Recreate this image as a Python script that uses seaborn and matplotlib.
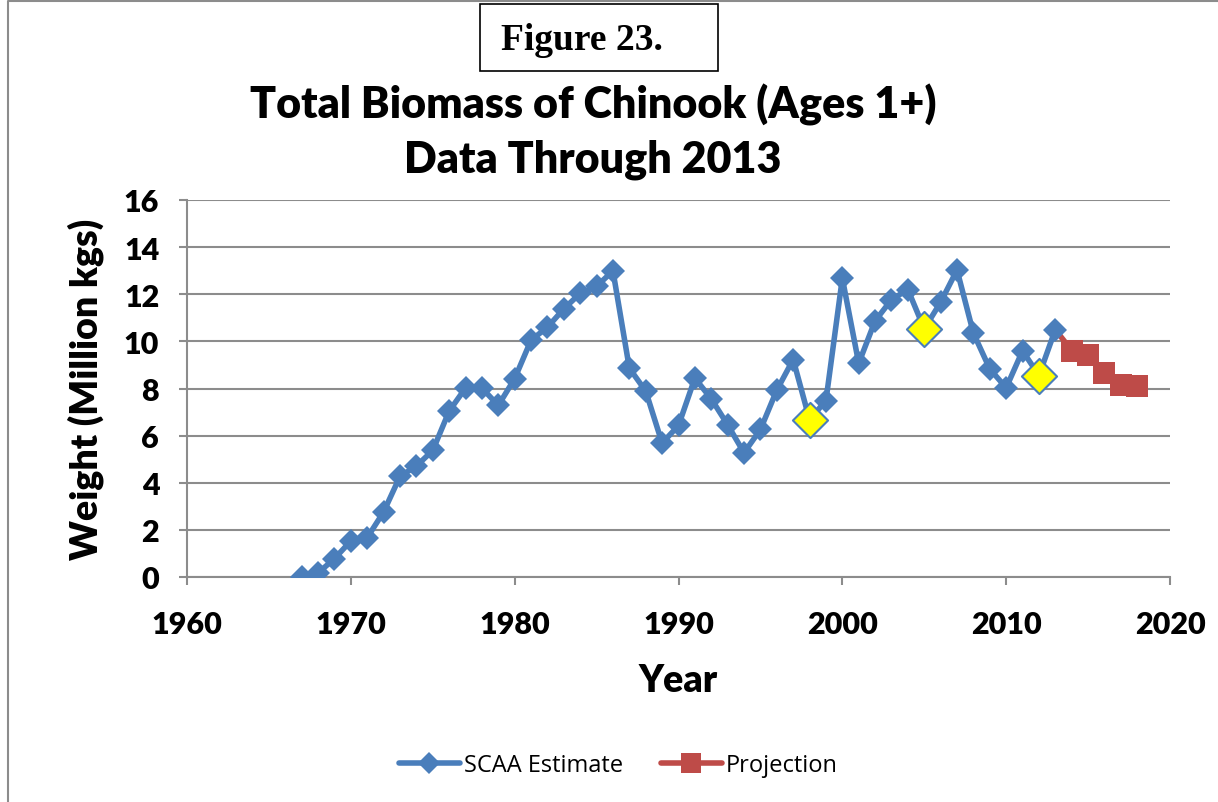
import matplotlib
matplotlib.use("Agg")
import matplotlib.pyplot as plt
import seaborn as sns
import pandas as pd
from matplotlib.lines import Line2D
from matplotlib.patches import Rectangle

years = list(range(1967, 2014))
scaa_estimate = [0.0, 0.17, 0.78, 1.53, 1.67, 2.76, 4.27, 4.71, 5.37, 7.04,
                 8.02, 8.02, 7.28, 8.42, 10.05, 10.6, 11.38, 12.04, 12.34, 12.99,
                 8.86, 7.89, 5.68, 6.43, 8.44, 7.56, 6.46, 5.27, 6.26, 7.93,
                 9.23, 6.67, 7.49, 12.68, 9.07, 10.87, 11.77, 12.2, 10.53, 11.66,
                 13.03, 10.35, 8.83, 8.03, 9.6, 8.55, 10.5]
highlight_years = [1998, 2005, 2012]
proj_years = [2013, 2014, 2015, 2016, 2017, 2018]
projection = [10.5, 9.61, 9.44, 8.66, 8.13, 8.10]

x_ticks = [1960, 1970, 1980, 1990, 2000, 2010, 2020]
y_ticks = [0, 2, 4, 6, 8, 10, 12, 14, 16]

BLUE = "#4A7EBB"
RED = "#BE4B48"
YELLOW = "#FFFF00"

sns.set_theme(style="white")
plt.rcParams["font.family"] = ["Lato", "DejaVu Sans"]
plt.rcParams["text.color"] = "black"
plt.rcParams["axes.labelcolor"] = "black"

fig = plt.figure(figsize=(12.18, 8.03), dpi=100)
ax = fig.add_axes([187/1218, 1-578/803, (1170-187)/1218, (578-201)/803])

df = pd.DataFrame({"Year": years, "Weight": scaa_estimate})
df_p = pd.DataFrame({"Year": proj_years, "Weight": projection})
df_h = df[df["Year"].isin(highlight_years)]

sns.lineplot(data=df_p, x="Year", y="Weight", ax=ax, color=RED, lw=4,
             marker="s", markersize=16, markeredgewidth=0, markevery=list(range(1, len(proj_years))),
             zorder=3)
sns.lineplot(data=df, x="Year", y="Weight", ax=ax, color=BLUE, lw=4,
             marker="D", markersize=12, markeredgewidth=0, zorder=4)
sns.scatterplot(data=df_h, x="Year", y="Weight", ax=ax, color=YELLOW, marker="D",
                s=320, edgecolor=BLUE, linewidth=1.5, zorder=5)

ax.set_xlim(1960, 2020)
ax.set_ylim(0, 16)
ax.set_xticks(x_ticks)
ax.set_yticks(y_ticks)
ax.set_xticklabels([str(t) for t in x_ticks], fontsize=22, fontweight="heavy")
ax.set_yticklabels([str(t) for t in y_ticks], fontsize=22, fontweight="heavy")
ax.yaxis.grid(True, color="#8C8C8C", lw=1.5)
ax.xaxis.grid(False)
for s in ["top", "right"]:
    ax.spines[s].set_visible(False)
for s in ["left", "bottom"]:
    ax.spines[s].set_color("#8C8C8C")
    ax.spines[s].set_linewidth(1.5)
ax.tick_params(axis="both", which="major", length=6, width=1.5, color="#8C8C8C",
               direction="out", left=True, bottom=True, labelcolor="black")
ax.tick_params(axis="x", pad=18)
ax.tick_params(axis="y", pad=14)
ax.set_xlabel("Year", fontsize=27, fontweight="heavy", labelpad=18)
ax.set_ylabel("Weight (Million kgs)", fontsize=27, fontweight="heavy", labelpad=14)

fig.text(593/1218, 1-105/803, "Total Biomass of Chinook (Ages 1+)", ha="center", va="center",
         fontsize=31, fontweight="heavy")
fig.text(593/1218, 1-160/803, "Data Through 2013", ha="center", va="center",
         fontsize=31, fontweight="heavy")

# Figure label box
fig.patches.append(Rectangle((480/1218, 1-72/803), (718-480)/1218, (72-5)/803,
                             transform=fig.transFigure, fill=False, edgecolor="black", lw=1.2))
fig.text(582/1218, 1-40/803, "Figure 23.", ha="center", va="center",
         fontsize=27, fontweight="bold", family=["Liberation Serif", "DejaVu Serif"])

# chart area border
fig.lines.append(Line2D([8/1218, 8/1218, 1.0], [0.0, 1-2/803, 1-2/803],
                        transform=fig.transFigure, color="#8C8C8C", lw=1.5))

handles = [Line2D([], [], color=BLUE, lw=4, marker="D", markersize=11, markeredgewidth=0),
           Line2D([], [], color=RED, lw=4, marker="s", markersize=14, markeredgewidth=0)]
fig.legend(handles, ["SCAA Estimate", "Projection"], loc="center",
           bbox_to_anchor=(618/1218, 1-766/803), ncol=2, frameon=False,
           handlelength=2.6, handletextpad=0.15, columnspacing=1.6,
           prop={"family": ["Open Sans", "DejaVu Sans"], "size": 17})

fig.savefig("out.png", dpi=100)
